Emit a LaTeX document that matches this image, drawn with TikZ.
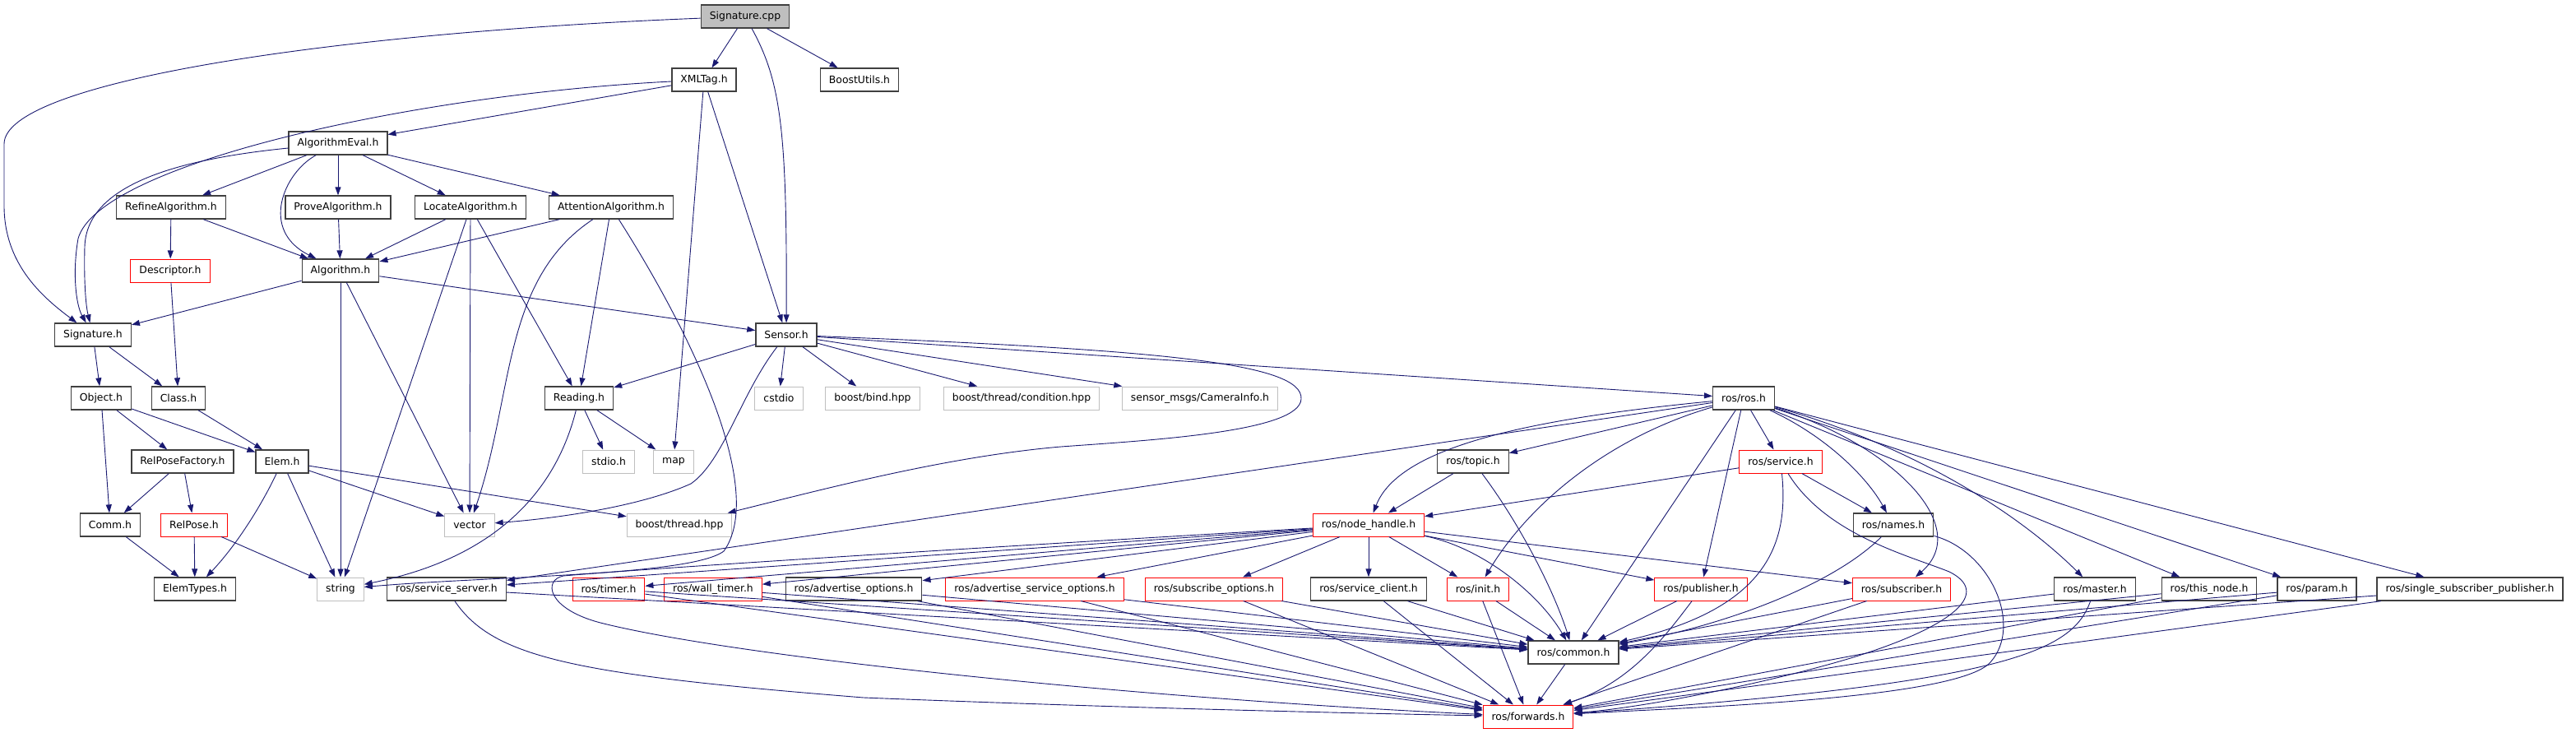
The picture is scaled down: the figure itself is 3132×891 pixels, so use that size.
\documentclass[tikz,border=0pt]{standalone}
\usepackage{fontspec}
\setmainfont{DejaVu Sans}
\usetikzlibrary{arrows.meta}
\definecolor{edgeblue}{HTML}{191970}
\definecolor{sysgray}{HTML}{BFBFBF}
\definecolor{boxgray}{HTML}{404040}

\begin{document}
\begin{tikzpicture}[x=1pt, y=-1pt,
    hdr/.style={draw=boxgray, line width=1.3pt, rectangle, minimum height=28pt,
      inner xsep=10.5pt, inner ysep=0pt, font=\fontsize{12.4}{14}\selectfont},
    partial/.style={hdr, draw=red, line width=1pt},
    sys/.style={hdr, draw=sysgray, line width=1pt},
    root/.style={hdr, fill=sysgray},
    inc/.style={draw=edgeblue, line width=0.9pt, -{Triangle[length=10pt,width=7pt]}}]
    \useasboundingbox (0,0) rectangle (3132,891);
    % row 1
    \node[root] (sig-cpp) at (906,20) {Signature.cpp};
    % row 2
    \node[hdr] (xml-tag)     at (856,97)  {XMLTag.h};
    \node[hdr] (boost-utils) at (1045,97) {BoostUtils.h};
    % row 3
    \node[hdr] (alg-eval) at (411,174) {AlgorithmEval.h};
    % row 4
    \node[hdr] (refine-alg)    at (208,252) {RefineAlgorithm.h};
    \node[hdr] (prove-alg)     at (411,252) {ProveAlgorithm.h};
    \node[hdr] (locate-alg)    at (572,252) {LocateAlgorithm.h};
    \node[hdr] (attention-alg) at (743,252) {AttentionAlgorithm.h};
    % row 5
    \node[partial] (descriptor) at (207,329) {Descriptor.h};
    \node[hdr]     (algorithm)  at (414,329) {Algorithm.h};
    % row 6
    \node[hdr] (sig-h)  at (113,407) {Signature.h};
    \node[hdr] (sensor) at (956,407) {Sensor.h};
    % row 7
    \node[hdr] (object)     at (123,484)  {Object.h};
    \node[hdr] (class)      at (217,484)  {Class.h};
    \node[hdr] (reading)    at (704,484)  {Reading.h};
    \node[sys] (cstdio)     at (947,484)  {cstdio};
    \node[sys] (boost-bind) at (1061,484) {boost/bind.hpp};
    \node[sys] (boost-cond) at (1242,484) {boost/thread/condition.hpp};
    \node[sys] (cam-info)   at (1459,484) {sensor\_msgs/CameraInfo.h};
    \node[hdr] (ros-ros)    at (2120,484) {ros/ros.h};
    % row 8
    \node[hdr]     (relpose-fact) at (222,561)  {RelPoseFactory.h};
    \node[hdr]     (elem)         at (343,561)  {Elem.h};
    \node[sys]     (stdio)        at (740,561)  {stdio.h};
    \node[sys]     (map)          at (819,561)  {map};
    \node[hdr]     (ros-topic)    at (1791,561) {ros/topic.h};
    \node[partial] (ros-service)  at (2165,561) {ros/service.h};
    % row 9
    \node[hdr]     (comm)         at (134,638)  {Comm.h};
    \node[partial] (relpose)      at (236,638)  {RelPose.h};
    \node[sys]     (vector)       at (571,638)  {vector};
    \node[sys]     (boost-thread) at (826,638)  {boost/thread.hpp};
    \node[partial] (node-handle)  at (1664,638) {ros/node\_handle.h};
    \node[hdr]     (ros-names)    at (2302,638) {ros/names.h};
    % row 10
    \node[hdr]     (elem-types)     at (237,716)  {ElemTypes.h};
    \node[sys]     (string)         at (414,716)  {string};
    \node[hdr]     (srv-server)     at (543,716)  {ros/service\_server.h};
    \node[partial] (ros-timer)      at (740,716)  {ros/timer.h};
    \node[partial] (wall-timer)     at (867,716)  {ros/wall\_timer.h};
    \node[hdr]     (adv-opt)        at (1038,716) {ros/advertise\_options.h};
    \node[partial] (adv-srv-opt)    at (1258,716) {ros/advertise\_service\_options.h};
    \node[partial] (sub-opt)        at (1476,716) {ros/subscribe\_options.h};
    \node[hdr]     (srv-client)     at (1664,716) {ros/service\_client.h};
    \node[partial] (ros-init)       at (1797,716) {ros/init.h};
    \node[partial] (ros-pub)        at (2068,716) {ros/publisher.h};
    \node[partial] (ros-sub)        at (2312,716) {ros/subscriber.h};
    \node[hdr]     (ros-master)     at (2547,716) {ros/master.h};
    \node[hdr]     (this-node)      at (2686,716) {ros/this\_node.h};
    \node[hdr]     (ros-param)      at (2817,716) {ros/param.h};
    \node[hdr]     (single-sub-pub) at (3003,716) {ros/single\_subscriber\_publisher.h};
    % row 11 and 12
    \node[hdr]     (ros-common) at (1913,793) {ros/common.h};
    \node[partial] (ros-fwd)    at (1858,871) {ros/forwards.h};
    % Signature.cpp
    \draw[inc] (sig-cpp) .. controls (400,40) and (5,100) .. (5,175)
      -- (5,250) .. controls (5,320) and (50,360) .. (sig-h);
    \draw[inc] (sig-cpp) -- (xml-tag);
    \draw[inc] (sig-cpp) .. controls (950,100) and (957,160) .. (sensor);
    \draw[inc] (sig-cpp) -- (boost-utils);
    % XMLTag.h
    \draw[inc] (xml-tag) -- (alg-eval);
    \draw[inc] (xml-tag) .. controls (500,115) and (120,200) .. (95,290)
      .. controls (88,330) and (92,370) .. (sig-h);
    \draw[inc] (xml-tag) -- (map);
    \draw[inc] (xml-tag) -- (sensor);
    % AlgorithmEval.h
    \draw[inc] (alg-eval) .. controls (200,195) and (105,230) .. (103,300)
      .. controls (102,340) and (104,370) .. (sig-h);
    \draw[inc] (alg-eval) -- (refine-alg);
    \draw[inc] (alg-eval) .. controls (345,210) and (315,280) .. (algorithm);
    \draw[inc] (alg-eval) -- (prove-alg);
    \draw[inc] (alg-eval) -- (locate-alg);
    \draw[inc] (alg-eval) -- (attention-alg);
    % algorithms
    \draw[inc] (refine-alg) -- (descriptor);
    \draw[inc] (refine-alg) -- (algorithm);
    \draw[inc] (prove-alg) -- (algorithm);
    \draw[inc] (locate-alg) -- (algorithm);
    \draw[inc] (locate-alg) -- (string);
    \draw[inc] (locate-alg) -- (vector);
    \draw[inc] (locate-alg) -- (reading);
    \draw[inc] (attention-alg) -- (algorithm);
    \draw[inc] (attention-alg) .. controls (610,340) and (625,480) .. (vector);
    \draw[inc] (attention-alg) -- (reading);
    \draw[inc] (attention-alg) .. controls (850,420) and (930,600) .. (880,670)
      .. controls (840,700) and (600,700) .. (string);
    \draw[inc] (algorithm) -- (sig-h);
    \draw[inc] (algorithm) -- (sensor);
    \draw[inc] (algorithm) -- (string);
    \draw[inc] (algorithm) -- (vector);
    \draw[inc] (descriptor) -- (class);
    % Signature.h and its parts
    \draw[inc] (sig-h) -- (object);
    \draw[inc] (sig-h) -- (class);
    \draw[inc] (object) -- (comm);
    \draw[inc] (object) -- (relpose-fact);
    \draw[inc] (object) -- (elem);
    \draw[inc] (class) -- (elem);
    \draw[inc] (relpose-fact) -- (comm);
    \draw[inc] (relpose-fact) -- (relpose);
    \draw[inc] (elem) .. controls (320,610) and (290,660) .. (elem-types);
    \draw[inc] (elem) -- (string);
    \draw[inc] (elem) -- (vector);
    \draw[inc] (elem) -- (boost-thread);
    \draw[inc] (relpose) -- (elem-types);
    \draw[inc] (relpose) -- (string);
    \draw[inc] (comm) -- (elem-types);
    % Sensor.h
    \draw[inc] (sensor) -- (reading);
    \draw[inc] (sensor) .. controls (900,480) and (880,560) .. (840,588)
      .. controls (780,615) and (680,630) .. (vector);
    \draw[inc] (sensor) -- (cstdio);
    \draw[inc] (sensor) -- (boost-bind);
    \draw[inc] (sensor) -- (boost-cond);
    \draw[inc] (sensor) -- (cam-info);
    \draw[inc] (sensor) -- (ros-ros);
    \draw[inc] (sensor) .. controls (1400,425) and (1585,440) .. (1582,485)
      .. controls (1580,525) and (1400,535) .. (1290,543)
      .. controls (1150,555) and (1000,595) .. (boost-thread);
    % Reading.h
    \draw[inc] (reading) -- (stdio);
    \draw[inc] (reading) -- (map);
    \draw[inc] (reading) .. controls (680,580) and (620,675) .. (string);
    % ros/ros.h
    \draw[inc] (ros-ros) -- (ros-topic);
    \draw[inc] (ros-ros) .. controls (1850,510) and (1700,545) .. (node-handle);
    \draw[inc] (ros-ros) -- (srv-server);
    \draw[inc] (ros-ros) .. controls (1960,530) and (1860,610) .. (ros-init);
    \draw[inc] (ros-ros) -- (ros-common);
    \draw[inc] (ros-ros) -- (ros-pub);
    \draw[inc] (ros-ros) -- (ros-service);
    \draw[inc] (ros-ros) .. controls (2220,530) and (2270,580) .. (ros-names);
    \draw[inc] (ros-ros) .. controls (2300,540) and (2400,640) .. (ros-sub);
    \draw[inc] (ros-ros) .. controls (2320,540) and (2450,620) .. (ros-master);
    \draw[inc] (ros-ros) -- (this-node);
    \draw[inc] (ros-ros) -- (ros-param);
    \draw[inc] (ros-ros) -- (single-sub-pub);
    % ros/topic.h, ros/service.h, ros/names.h
    \draw[inc] (ros-topic) -- (node-handle);
    \draw[inc] (ros-topic) .. controls (1850,640) and (1890,720) .. (ros-common);
    \draw[inc] (ros-service) -- (node-handle);
    \draw[inc] (ros-service) -- (ros-names);
    \draw[inc] (ros-service) .. controls (2175,660) and (2150,740) .. (ros-common);
    \draw[inc] (ros-service) .. controls (2220,650) and (2320,675) .. (2370,695)
      .. controls (2420,720) and (2380,760) .. (2250,800)
      .. controls (2150,830) and (2000,860) .. (ros-fwd);
    \draw[inc] (ros-names) .. controls (2230,710) and (2100,760) .. (ros-common);
    \draw[inc] (ros-names) .. controls (2420,670) and (2460,760) .. (2420,805)
      .. controls (2380,850) and (2050,860) .. (ros-fwd);
    % ros/node_handle.h
    \foreach \dst in {srv-server,ros-timer,wall-timer,adv-opt,adv-srv-opt,sub-opt,srv-client,ros-init,ros-pub,ros-sub}
    \draw[inc] (node-handle) -- (\dst);
    \draw[inc] (node-handle) .. controls (1800,665) and (1870,720) .. (ros-common);
    \draw[inc] (node-handle) .. controls (1200,665) and (800,690) .. (685,700)
      .. controls (660,705) and (665,740) .. (730,757)
      .. controls (900,800) and (1400,850) .. (ros-fwd);
    % bottom row into ros/common.h and ros/forwards.h
    \foreach \src in {ros-timer,wall-timer,adv-opt,adv-srv-opt,sub-opt,srv-client,ros-init,ros-sub,this-node,ros-param,single-sub-pub}
    {
      \draw[inc] (\src) -- (ros-common);
      \draw[inc] (\src) -- (ros-fwd);
    }
    \draw[inc] (srv-server) -- (ros-common);
    \draw[inc] (srv-server) .. controls (600,800) and (700,820) .. (1050,848)
      .. controls (1400,862) and (1700,868) .. (ros-fwd);
    \draw[inc] (ros-pub) -- (ros-common);
    \draw[inc] (ros-pub) .. controls (2020,780) and (1980,830) .. (ros-fwd);
    \draw[inc] (ros-master) -- (ros-common);
    \draw[inc] (ros-master) .. controls (2520,790) and (2450,830) .. (ros-fwd);
    \draw[inc] (ros-common) -- (ros-fwd);
\end{tikzpicture}
\end{document}
